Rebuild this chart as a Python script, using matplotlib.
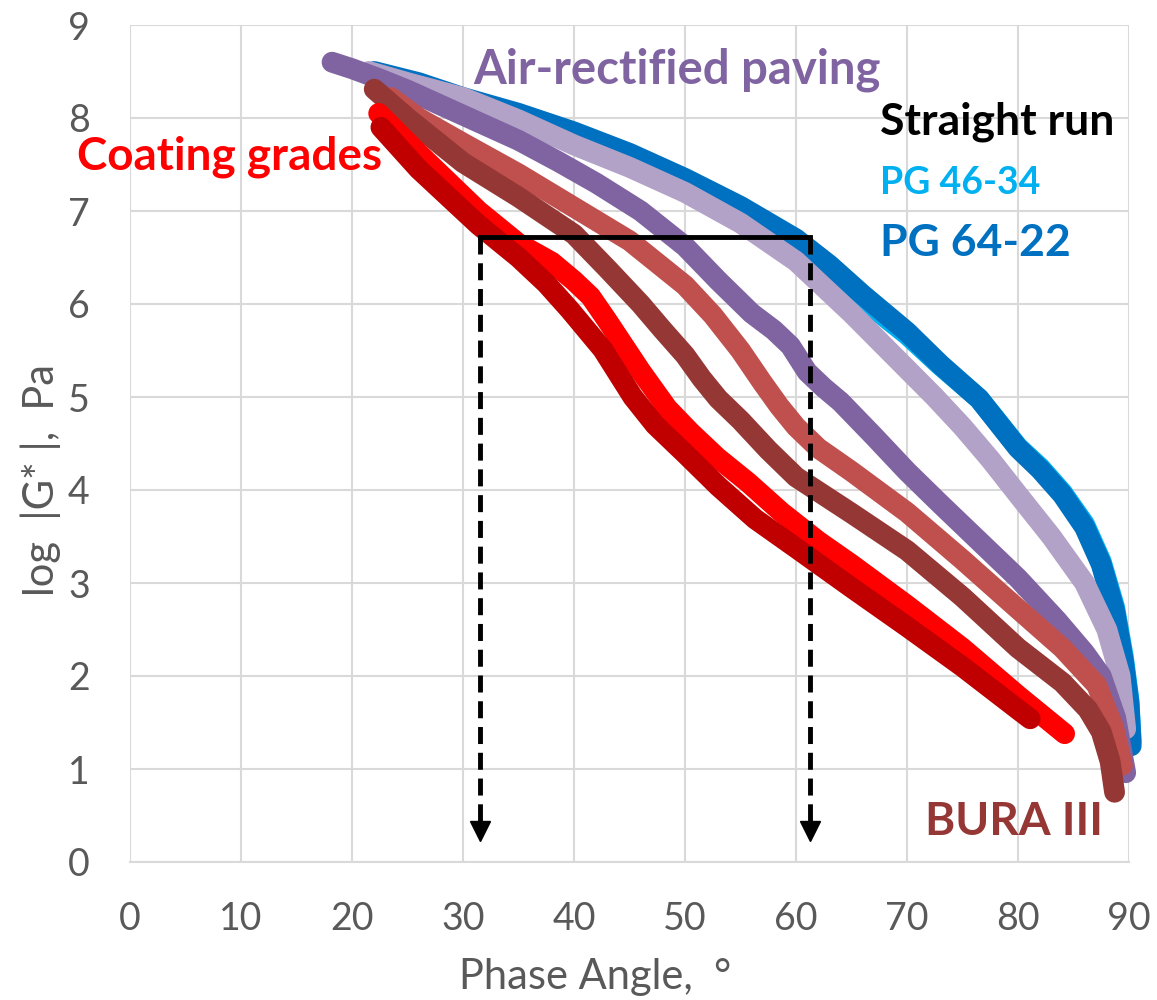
import matplotlib
matplotlib.use("Agg")
import matplotlib.pyplot as plt

plt.rcParams['font.family'] = ['Lato', 'DejaVu Sans']

# ---- data ----
pg6422_x = [22, 26, 30, 35, 40, 45, 50, 55, 60, 63, 66, 70, 73, 76.5, 80, 82, 84, 86, 87.5, 88.7, 89.5, 90, 90.2]
pg6422_y = [8.5, 8.38, 8.22, 8.05, 7.85, 7.62, 7.35, 7.05, 6.7, 6.42, 6.1, 5.7, 5.35, 4.98, 4.45, 4.22, 3.95, 3.6, 3.2, 2.7, 2.15, 1.7, 1.25]

pg4634_x = [22, 30, 40, 50, 55, 60, 63, 66, 70, 73, 76.5, 80, 82, 84, 86, 87.5, 88.7, 89.5, 90, 90.2]
pg4634_y = [8.48, 8.2, 7.83, 7.32, 7.01, 6.64, 6.36, 6.05, 5.67, 5.34, 4.98, 4.46, 4.24, 3.97, 3.63, 3.23, 2.74, 2.2, 1.74, 1.3]

straight_x = [21.5, 25, 30, 35, 40, 45, 50, 55, 60, 65, 70, 72.5, 75, 77.5, 80, 83, 86, 88, 89.2, 89.7]
straight_y = [8.5, 8.38, 8.22, 7.98, 7.71, 7.47, 7.2, 6.87, 6.46, 5.9, 5.3, 5.0, 4.68, 4.33, 3.95, 3.5, 3.0, 2.5, 2.0, 1.43]

air_x = [18.2, 20, 22.5, 25, 30, 35, 38.6, 42, 46, 50, 53, 56, 58, 59.5, 61, 62.5, 64, 67, 70, 73, 76.5, 80, 83.5, 86, 87.5, 88.8, 89.7]
air_y = [8.6, 8.53, 8.42, 8.3, 8.03, 7.76, 7.53, 7.3, 7.0, 6.62, 6.25, 5.9, 5.72, 5.55, 5.27, 5.1, 4.95, 4.58, 4.2, 3.85, 3.45, 3.05, 2.6, 2.25, 2.0, 1.55, 0.96]

ired_x = [23.5, 26, 30, 35, 40, 45, 50, 52.5, 55, 57, 58.5, 60, 62, 65, 70, 75, 80, 84, 87.1, 88.6, 89.4]
ired_y = [8.22, 8.0, 7.73, 7.4, 7.04, 6.68, 6.2, 5.88, 5.5, 5.15, 4.9, 4.68, 4.45, 4.2, 3.76, 3.25, 2.72, 2.3, 1.9, 1.45, 1.04]

bura_x = [22, 25, 30, 35, 40, 43, 46, 48, 50, 51.5, 53, 55, 57.5, 60, 65, 70, 75, 80, 84, 86.3, 87.5, 88.3, 88.7]
bura_y = [8.31, 8.0, 7.52, 7.15, 6.75, 6.38, 6.0, 5.72, 5.45, 5.2, 4.98, 4.75, 4.43, 4.14, 3.75, 3.35, 2.85, 2.3, 1.93, 1.64, 1.4, 1.08, 0.75]

coat1_x = [22.4, 26, 31.4, 35, 38, 40, 41.5, 43, 44.5, 46, 48.4, 50.5, 52.9, 55.7, 58.7, 62, 65, 70, 75, 80, 84.2]
coat1_y = [8.05, 7.62, 7.0, 6.65, 6.45, 6.25, 6.08, 5.82, 5.55, 5.28, 4.88, 4.62, 4.35, 4.08, 3.76, 3.45, 3.2, 2.76, 2.3, 1.79, 1.38]

coat2_x = [22.6, 26, 31.4, 35, 37.5, 39.6, 42.6, 45.3, 47.3, 50.1, 53, 56.3, 60.2, 65, 70, 75, 80, 81.1]
coat2_y = [7.9, 7.45, 6.85, 6.5, 6.22, 5.94, 5.51, 5.0, 4.7, 4.38, 4.04, 3.69, 3.36, 2.95, 2.53, 2.1, 1.64, 1.54]

# phase angles read at log|G*| = 6.72
box_left = 31.5
box_right = 61.3
box_level = 6.72

fig = plt.figure(figsize=(11.57, 10), dpi=100)
ax = fig.add_axes([0.1124, 0.138, 0.8634, 0.837])

lw = 15
series = [
    (pg4634_x, pg4634_y, '#00B0F0'),
    (pg6422_x, pg6422_y, '#0070C0'),
    (straight_x, straight_y, '#B3A2C7'),
    (air_x, air_y, '#8064A2'),
    (ired_x, ired_y, '#C0504D'),
    (bura_x, bura_y, '#953735'),
    (coat1_x, coat1_y, '#FF0000'),
    (coat2_x, coat2_y, '#C00000'),
]
for xs, ys, c in series:
    ax.plot(xs, ys, color=c, lw=lw, solid_capstyle='round', solid_joinstyle='round',
            zorder=3, clip_on=False)

# box and arrows
ax.plot([box_left, box_right], [box_level, box_level], color='black', lw=3.5, zorder=5,
        solid_capstyle='projecting')
for xv in (box_left, box_right):
    ax.plot([xv, xv], [box_level, 0.42], color='black', lw=3.5, ls=(0, (3.5, 1.8)), zorder=5)
    ax.plot([xv], [0.33], marker='v', ms=15, color='black', zorder=5)

ax.set_xlim(0, 90)
ax.set_ylim(0, 9)
ax.set_xticks(range(0, 91, 10))
ax.set_yticks(range(0, 10))
ax.grid(True, color='#D9D9D9', lw=1.5, zorder=0)
ax.set_axisbelow(True)
for s in ['left', 'top', 'right']:
    ax.spines[s].set_visible(False)
ax.spines['bottom'].set_color('#D9D9D9')
ax.spines['bottom'].set_linewidth(1.5)
ax.tick_params(length=0, labelsize=27, labelcolor='#595959')
ax.tick_params(axis='x', pad=28)
ax.tick_params(axis='y', pad=29)

fig.text(0.514, 0.023, 'Phase Angle,  °', fontsize=30, color='#595959', ha='center', va='center')
fig.text(0.035, 0.52, 'log  |G* |,  Pa', fontsize=30, color='#595959', ha='center', va='center',
         rotation=90)

# annotations
ax.text(49.3, 8.52, 'Air-rectified paving', color='#8064A2', fontsize=34,
        fontweight='bold', ha='center', va='center')
ax.text(67.6, 7.96, 'Straight run', color='black', fontsize=32, fontweight='bold',
        ha='left', va='center')
ax.text(67.6, 7.3, 'PG 46-34', color='#00B0F0', fontsize=27, fontweight='bold',
        ha='left', va='center')
ax.text(67.6, 6.66, 'PG 64-22', color='#0070C0', fontsize=32, fontweight='bold',
        ha='left', va='center')
ax.text(9.0, 7.58, 'Coating grades', color='#FF0000', fontsize=33, fontweight='bold',
        ha='center', va='center')
ax.text(79.6, 0.43, 'BURA III', color='#953735', fontsize=33, fontweight='bold',
        ha='center', va='center')

fig.savefig('out.png', dpi=100)
